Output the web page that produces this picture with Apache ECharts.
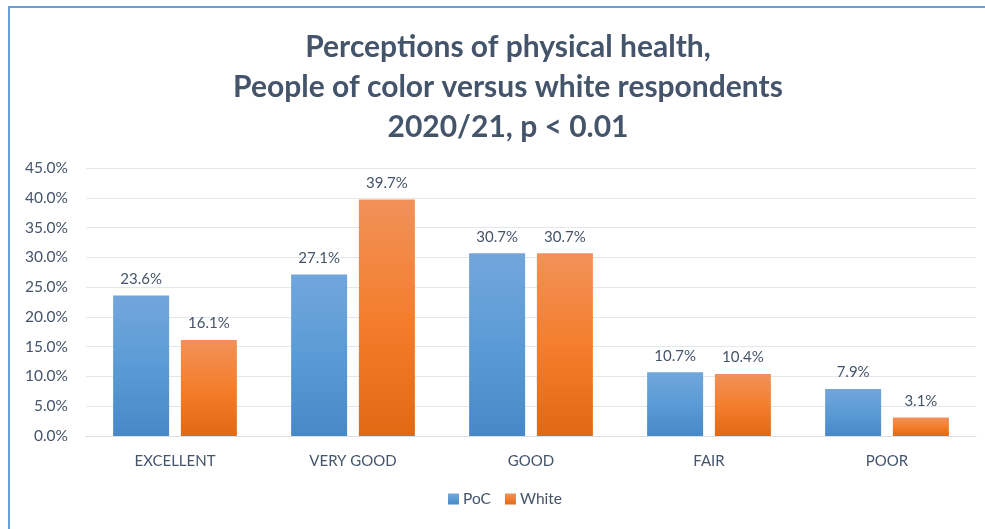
<!DOCTYPE html>
<html><head><meta charset="utf-8">
<script src="https://cdn.jsdelivr.net/npm/echarts@6/dist/echarts.min.js"></script>
<style>
html,body{margin:0;padding:0;background:#fff;}
#frame{position:absolute;left:8px;top:6px;width:985px;height:540px;border-left:2px solid #6A9FD6;border-top:2px solid #6A9FD6;box-sizing:border-box;}
#chart{position:absolute;left:0;top:0;width:985px;height:529px;}
</style></head>
<body>
<div id="frame"></div>
<div id="chart"></div>
<script>
const categories = ['EXCELLENT','VERY GOOD','GOOD','FAIR','POOR'];
const poc = [23.6, 27.1, 30.7, 10.7, 7.9];
const white = [16.1, 39.7, 30.7, 10.4, 3.1];
const seriesNames = ['PoC','White'];
const titleLines = ['Perceptions of physical health,','People of color versus white respondents','2020/21, p < 0.01'];

const font = 'Lato, "Open Sans", sans-serif';
const txt = '#44546A';
function grad(top, mid, bot){
  return new echarts.graphic.LinearGradient(0,0,0,1,[{offset:0,color:top},{offset:0.5,color:mid},{offset:1,color:bot}]);
}
const chart = echarts.init(document.getElementById('chart'), null, {renderer:'canvas'});
chart.setOption({
  backgroundColor:'transparent',
  animation:false,
  title:{text:titleLines.join('\n'), left:503, textAlign:'center', top:22,
    textStyle:{fontFamily:font, fontSize:30, fontWeight:'bold', color:txt, lineHeight:40}},
  grid:{left:86, right:9, top:168, bottom:93, containLabel:false},
  legend:{bottom:17, left:443, itemWidth:11, itemHeight:11, itemGap:14,
    icon:'rect', textStyle:{fontFamily:font, fontSize:15.5, color:txt, padding:[0,0,0,-1]}},
  xAxis:{type:'category', data:categories,
    axisLine:{show:true, lineStyle:{color:'#D9DEE6', width:1}}, axisTick:{show:false},
    axisLabel:{fontFamily:font, fontSize:15, color:txt, margin:18}},
  yAxis:{type:'value', min:0, max:45, interval:5,
    axisLine:{show:false}, axisTick:{show:false},
    splitLine:{lineStyle:{color:'#E3E7EC', width:1}},
    axisLabel:{fontFamily:font, fontSize:15.5, color:txt, margin:18, formatter:v=>v.toFixed(1)+'%'}},
  series:[
    {name:seriesNames[0], type:'bar', data:poc, barWidth:56, barGap:'21%',
      itemStyle:{color:grad('#72A6DD','#5B9BD5','#4788C7')},
      label:{show:true, position:'top', distance:9, fontFamily:font, fontSize:15, color:txt, formatter:p=>p.value.toFixed(1)+'%'}},
    {name:seriesNames[1], type:'bar', data:white, barWidth:56,
      itemStyle:{color:grad('#F19159','#F47E2D','#E06914')},
      label:{show:true, position:'top', distance:9, fontFamily:font, fontSize:15, color:txt, formatter:p=>p.value.toFixed(1)+'%'}}
  ]
});
</script>
</body></html>
